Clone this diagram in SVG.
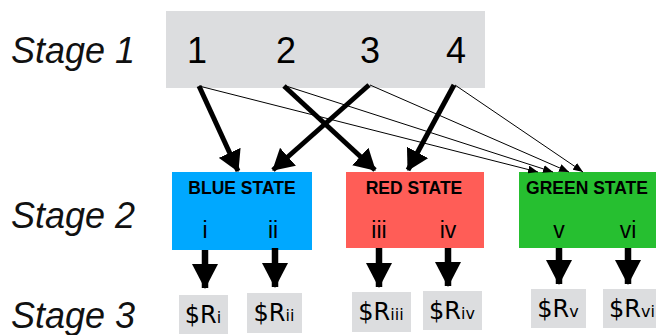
<svg xmlns="http://www.w3.org/2000/svg" width="656" height="335" viewBox="0 0 656 335">
<style>
.stage{font-family:"Liberation Sans",Arial,sans-serif;font-style:italic;font-size:36px;fill:#111}
.num{font-family:"Liberation Sans",Arial,sans-serif;font-size:36px;fill:#000;text-anchor:middle}
.title{font-family:"Liberation Sans",Arial,sans-serif;font-weight:bold;font-size:17.5px;fill:#000;text-anchor:middle}
.rom{font-family:"Liberation Sans",Arial,sans-serif;font-size:23px;fill:#000;text-anchor:middle}
.rew{font-family:"DejaVu Sans",sans-serif;font-size:24px;fill:#000;text-anchor:middle}
.sub{font-size:16px}
.gray{fill:#dcdddf}
.thick{stroke:#000;stroke-width:5;fill:none;marker-end:url(#bigHead)}
.thin{stroke:#000;stroke-width:1;fill:none;marker-end:url(#smallHead)}
.down{stroke:#000;stroke-width:6.5;fill:none;marker-end:url(#downHead)}
</style>
<defs>
<marker id="bigHead" markerUnits="userSpaceOnUse" markerWidth="22" markerHeight="24" refX="20" refY="12" orient="auto">
<path d="M0,0 L21,12 L0,24 z" fill="#000"/>
</marker>
<marker id="smallHead" markerUnits="userSpaceOnUse" markerWidth="11" markerHeight="8" refX="10" refY="4" orient="auto">
<path d="M0,0 L10,4 L0,8 z" fill="#000"/>
</marker>
<marker id="downHead" markerUnits="userSpaceOnUse" markerWidth="26" markerHeight="26" refX="24" refY="13" orient="auto">
<path d="M0,0 L25,13 L0,26 z" fill="#000"/>
</marker>
</defs>

<text class="stage" x="11" y="63">Stage 1</text>
<text class="stage" x="11" y="228">Stage 2</text>
<text class="stage" x="11" y="328">Stage 3</text>

<g id="stage1">
<rect class="gray" x="166" y="11" width="319" height="77"/>
<text class="num" x="197" y="63">1</text>
<text class="num" x="286" y="63">2</text>
<text class="num" x="370" y="63">3</text>
<text class="num" x="456" y="63">4</text>
</g>

<g id="blue">
<rect x="172" y="172" width="140" height="78" fill="#00a8ff"/>
<text class="title" x="242" y="194">BLUE STATE</text>
<text class="rom" x="205" y="238">i</text>
<text class="rom" x="273" y="238">ii</text>
</g>
<g id="red">
<rect x="346" y="172" width="138" height="76" fill="#ff5d57"/>
<text class="title" x="414" y="194">RED STATE</text>
<text class="rom" x="379" y="238">iii</text>
<text class="rom" x="448" y="238">iv</text>
</g>
<g id="green">
<rect x="519" y="172" width="137" height="76" fill="#26bf30"/>
<text class="title" x="587" y="194">GREEN STATE</text>
<text class="rom" x="559" y="238">v</text>
<text class="rom" x="628" y="238">vi</text>
</g>

<g id="r1"><rect class="gray" x="179" y="295" width="49" height="39"/><text class="rew" x="203" y="323">$R<tspan class="sub">i</tspan></text></g>
<g id="r2"><rect class="gray" x="247" y="293" width="55" height="40"/><text class="rew" x="274" y="321">$R<tspan class="sub">ii</tspan></text></g>
<g id="r3"><rect class="gray" x="352" y="292" width="59" height="40"/><text class="rew" x="381" y="320">$R<tspan class="sub">iii</tspan></text></g>
<g id="r4"><rect class="gray" x="423" y="291" width="59" height="39"/><text class="rew" x="452" y="319">$R<tspan class="sub">iv</tspan></text></g>
<g id="r5"><rect class="gray" x="531" y="289" width="55" height="39"/><text class="rew" x="558" y="317">$R<tspan class="sub">v</tspan></text></g>
<g id="r6"><rect class="gray" x="603" y="289" width="53" height="39"/><text class="rew" x="632" y="317">$R<tspan class="sub">vi</tspan></text></g>

<g id="connectors">
<line class="thin" x1="199" y1="86" x2="538" y2="172"/>
<line class="thin" x1="286" y1="86" x2="553" y2="172"/>
<line class="thin" x1="370" y1="85" x2="569" y2="172"/>
<line class="thin" x1="455" y1="85" x2="583" y2="172"/>
<line class="thick" x1="199" y1="86" x2="238" y2="171"/>
<line class="thick" x1="284" y1="86" x2="375" y2="170"/>
<line class="thick" x1="369" y1="85" x2="273" y2="170"/>
<line class="thick" x1="454" y1="85" x2="408" y2="170"/>
<line class="down" x1="205" y1="250" x2="205" y2="288"/>
<line class="down" x1="275" y1="248" x2="275" y2="287"/>
<line class="down" x1="379" y1="248" x2="379" y2="287"/>
<line class="down" x1="448" y1="248" x2="448" y2="286"/>
<line class="down" x1="559" y1="248" x2="559" y2="284"/>
<line class="down" x1="628" y1="248" x2="628" y2="284"/>
</g>
</svg>
